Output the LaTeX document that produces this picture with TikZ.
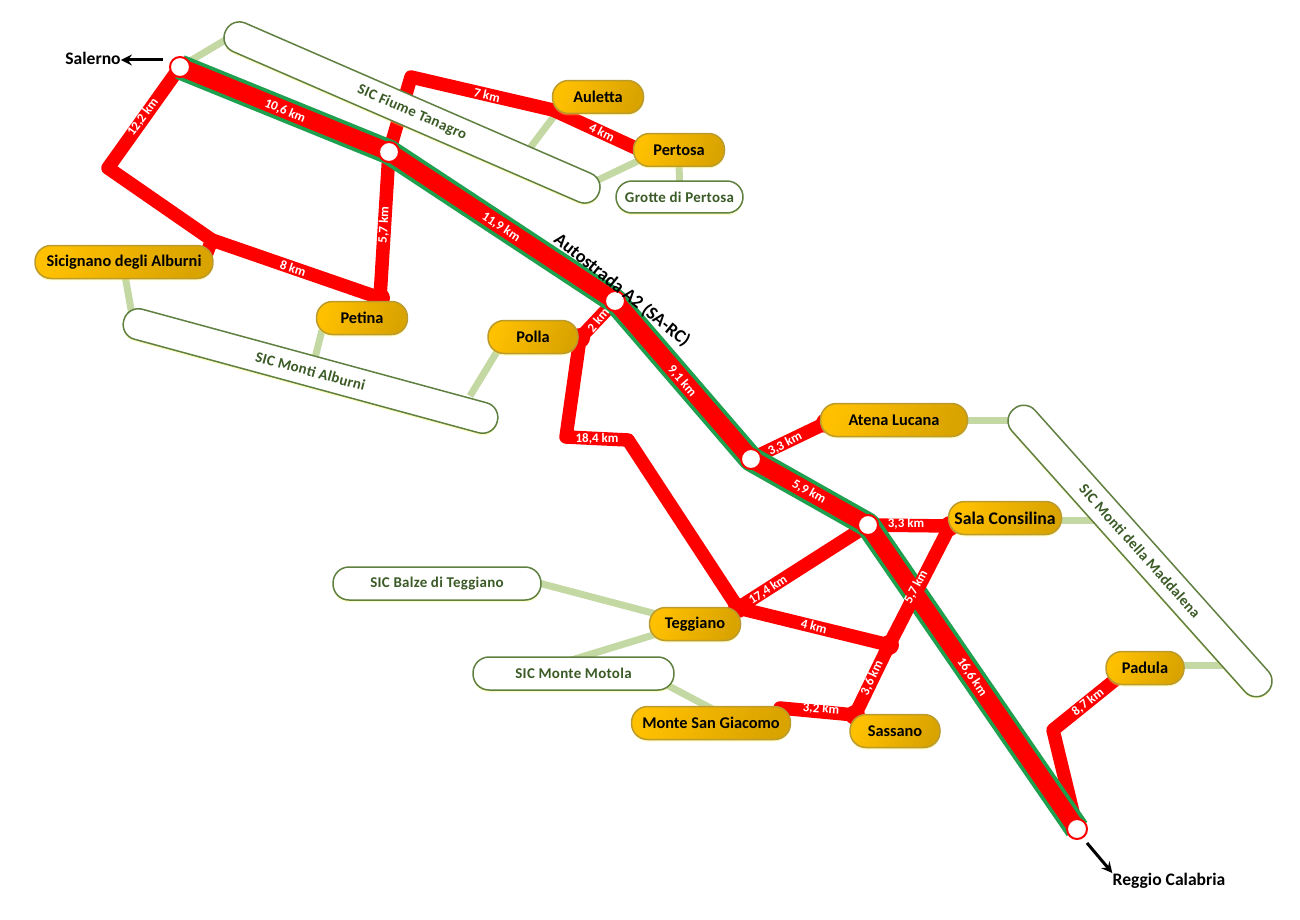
\documentclass[tikz,border=0pt]{standalone}
\usepackage{fontspec}
\setmainfont{Carlito}
\newfontfamily\sicfont[LetterSpace=2]{Carlito}
\usetikzlibrary{backgrounds,shadows}

\definecolor{roadred}{HTML}{FF0000}
\definecolor{roadgreen}{HTML}{1FA04F}
\definecolor{sicline}{HTML}{C4D8A3}
\definecolor{sicedge}{HTML}{5F8040}
\definecolor{sictext}{HTML}{3A5A26}
\definecolor{goldA}{HTML}{FFC000}
\definecolor{goldB}{HTML}{D9A300}
\definecolor{goldedge}{HTML}{BB9A2E}

\tikzset{
  glow/.style={drop shadow={shadow xshift=0cm,shadow yshift=-0.04cm,fill=yellow!70!white,opacity=0.35}},
  town/.style={rectangle,rounded corners=0.32cm,draw=goldedge,line width=0.03cm,left color=goldA,right color=goldB,shading angle=70,minimum height=0.66cm,inner sep=0pt,glow,font=\fontsize{9.3}{11}\selectfont\bfseries},
  sic/.style={rectangle,rounded corners=0.3cm,draw=sicedge,line width=0.03cm,fill=white,minimum height=0.62cm,inner sep=0pt,text=sictext,glow,font=\sicfont\fontsize{8.5}{10}\selectfont\bfseries},
  exit/.style={circle,fill=white,draw=roadred,line width=0.04cm,minimum size=0.4cm,inner sep=0pt},
  km/.style={text=white,inner sep=0pt,font=\fontsize{7.4}{9}\selectfont\bfseries},
  place/.style={inner sep=0pt,font=\fontsize{10}{12}\selectfont\bfseries},
  motorwaygreen/.style={draw=roadgreen,line width=0.5cm,line join=round},
  motorway/.style={draw=roadred,line width=0.35cm,line join=round},
  route/.style={draw=roadred,line width=0.27cm,line cap=round,line join=round},
  sicarm/.style={draw=sicline,line width=0.14cm},
  way/.style={-stealth,line width=0.06cm},
}

\begin{document}
\begin{tikzpicture}[x=0.02cm,y=-0.02cm]
  \path[use as bounding box] (0,0) rectangle (1300,919);

  % motorway exits
  \node[exit] (salernoexit) at (180,67) {};
  \node[exit] (petinaexit) at (389,152) {};
  \node[exit] (pollaexit) at (615,301) {};
  \node[exit] (atenaexit) at (751,459) {};
  \node[exit] (salaexit) at (868,525) {};
  \node[exit] (reggioexit) at (1077,829) {};

  % towns
  \node[town,minimum width=3.56cm] (sicignano) at (124,262) {Sicignano degli Alburni};
  \node[town,minimum width=1.82cm] (petina) at (362,318) {Petina};
  \node[town,minimum width=1.82cm] (auletta) at (598,97) {Auletta};
  \node[town,minimum width=1.82cm] (pertosa) at (679,150) {Pertosa};
  \node[town,minimum width=1.8cm] (polla) at (533,337) {Polla};
  \node[town,minimum width=2.94cm] (atena) at (894,420) {Atena Lucana};
  \node[town,minimum width=2.26cm,font=\fontsize{10.1}{12}\selectfont\bfseries] (sala) at (1005,518) {Sala Consilina};
  \node[town,minimum width=1.56cm] (padula) at (1145,668) {Padula};
  \node[town,minimum width=1.82cm] (teggiano) at (695,624) {Teggiano};
  \node[town,minimum width=3.18cm] (giacomo) at (711,723) {Monte San Giacomo};
  \node[town,minimum width=1.8cm] (sassano) at (895,731) {Sassano};

  % protected areas
  \node[sic,minimum width=8.14cm,rotate=-23.5] (tanagro) at (412,112.5) {SIC Fiume Tanagro};
  \node[sic,minimum width=7.74cm,rotate=-15.2] (alburni) at (310.5,371) {SIC Monti Alburni};
  \node[sic,minimum width=7.6cm,rotate=-48.2] (maddalena) at (1140,551) {SIC Monti della Maddalena};
  \node[sic,minimum width=2.54cm,minimum height=0.64cm,rounded corners=0.32cm] (grotte) at (679.5,197) {Grotte di Pertosa};
  \node[sic,minimum width=4.16cm,minimum height=0.66cm,rounded corners=0.32cm] (balze) at (437,583.5) {SIC Balze di Teggiano};
  \node[sic,minimum width=4.02cm,minimum height=0.66cm,rounded corners=0.32cm] (motola) at (573.5,673.5) {SIC Monte Motola};

  % bends of the routes
  \coordinate (bendA) at (108,168);
  \coordinate (bendB) at (212,240);
  \coordinate (bendC) at (380,298);
  \coordinate (bendD) at (411,77);
  \coordinate (bendE) at (553,110);
  \coordinate (bendF) at (640,150);
  \coordinate (bendG) at (580,338);
  \coordinate (bendH) at (566,437);
  \coordinate (bendI) at (628,440);
  \coordinate (bendJ) at (738,608);
  \coordinate (bendK) at (889,645);
  \coordinate (bendL) at (950,526);
  \coordinate (bendM) at (855,715);
  \coordinate (bendN) at (780,708);
  \coordinate (bendO) at (1053,730);
  \coordinate (bendP) at (1115,680);
  \coordinate (bendQ) at (826,423);
  \coordinate (stubB) at (206,255);

  % ends of the green arms
  \coordinate (tanagroA) at (232,36);
  \coordinate (tanagroB) at (530,148);
  \coordinate (tanagroC) at (598,180);
  \coordinate (pertosaB) at (640,160);
  \coordinate (auleftB) at (555,115);
  \coordinate (sicignanoB) at (124,270);
  \coordinate (alburniA) at (132,315);
  \coordinate (petinaB) at (322,330);
  \coordinate (alburniB) at (315,358);
  \coordinate (pollaB) at (498,350);
  \coordinate (alburniC) at (470,396);
  \coordinate (atenaB) at (960,420);
  \coordinate (maddalenaA) at (1012,420);
  \coordinate (salaB) at (1055,520);
  \coordinate (maddalenaB) at (1095,520);
  \coordinate (paduleB) at (1175,665);
  \coordinate (maddalenaC) at (1226,665);
  \coordinate (balzeB) at (535,582);
  \coordinate (teggianoA) at (660,615);
  \coordinate (motolaA) at (565,662);
  \coordinate (teggianoB) at (660,633);
  \coordinate (motolaB) at (665,684);
  \coordinate (giacomoB) at (718,712);

  \begin{scope}[on background layer]
    \draw[sicarm] (salernoexit.center) -- (tanagroA);
    \draw[sicarm] (auleftB) -- (tanagroB);
    \draw[sicarm] (pertosaB) -- (tanagroC);
    \draw[sicarm] (pertosa.center) -- (grotte.center);
    \draw[sicarm] (sicignanoB) -- (alburniA);
    \draw[sicarm] (petinaB) -- (alburniB);
    \draw[sicarm] (pollaB) -- (alburniC);
    \draw[sicarm] (atenaB) -- (maddalenaA);
    \draw[sicarm] (salaB) -- (maddalenaB);
    \draw[sicarm] (paduleB) -- (maddalenaC);
    \draw[sicarm] (balzeB) -- (teggianoA);
    \draw[sicarm] (motolaA) -- (teggianoB);
    \draw[sicarm] (motolaB) -- (giacomoB);

    \draw[route] (salernoexit.center) -- (bendA) -- (bendB) -- (bendC) -- (petinaexit.center) -- (bendD) -- (bendE) -- (bendF);
    \draw[route] (bendB) -- (stubB);
    \draw[route] (pollaexit.center) -- (bendG) -- (bendH) -- (bendI) -- (bendJ) -- (bendK);
    \draw[route] (bendG) -- (polla.center);
    \draw[route] (bendJ) -- (salaexit.center);
    \draw[route] (bendK) -- (bendM) -- (bendN);
    \draw[route] (salaexit.center) -- (bendL);
    \draw[route] (atenaexit.center) -- (bendQ);
    \draw[route] (reggioexit.center) -- (bendO) -- (bendP);

    \draw[motorwaygreen] (salernoexit.center) -- (petinaexit.center) -- (pollaexit.center) -- (atenaexit.center) -- (salaexit.center) -- (reggioexit.center);
    \draw[motorway] (salernoexit.center) -- (petinaexit.center) -- (pollaexit.center) -- (atenaexit.center) -- (salaexit.center) -- (reggioexit.center);
    \draw[route] (bendK) -- (bendL);
    \foreach \b in {bendC,bendG,bendJ,bendK,bendL,bendM,bendQ}
      \fill[roadred] (\b) circle (0.2cm);
  \end{scope}

  % distances
  \node[km,rotate=53] (kmA) at (143,117) {12,2 km};
  \node[km,rotate=-23] (kmB) at (285,111) {10,6 km};
  \node[km,rotate=-18] (kmC) at (293,268) {8 km};
  \node[km,rotate=87] (kmD) at (384,225) {5,7 km};
  \node[km,rotate=-13] (kmE) at (487,95) {7 km};
  \node[km,rotate=-27] (kmF) at (602,132) {4 km};
  \node[km,rotate=-33] (kmG) at (501,227) {11,9 km};
  \node[km,rotate=50] (kmH) at (598,320) {2 km};
  \node[km,rotate=-49] (kmI) at (682,381) {9,1 km};
  \node[km] (kmJ) at (597,439) {18,4 km};
  \node[km,rotate=27] (kmK) at (785,444) {3,3 km};
  \node[km,rotate=-29] (kmL) at (809,492) {5,9 km};
  \node[km] (kmM) at (906,524) {3,3 km};
  \node[km,rotate=33] (kmN) at (768,590) {17,4 km};
  \node[km,rotate=-14] (kmO) at (814,626) {4 km};
  \node[km,rotate=62] (kmP) at (916,587) {5,7 km};
  \node[km,rotate=65] (kmQ) at (872,678) {3,6 km};
  \node[km,rotate=-4] (kmR) at (821,709) {3,2 km};
  \node[km,rotate=-56] (kmS) at (972,677) {16,6 km};
  \node[km,rotate=38] (kmT) at (1088,702) {8,7 km};

  \node[place,font=\fontsize{10.4}{12}\selectfont\bfseries,rotate=-39] (autostrada) at (622,290) {Autostrada A2 (SA-RC)};

  % ends of the motorway
  \node[place] (salerno) at (93,58) {Salerno};
  \node[place] (reggio) at (1169,881) {Reggio Calabria};
  \coordinate (salernoway) at (163,60);
  \coordinate (reggioway) at (1087,843);
  \draw[way] (salernoway) -- (salerno.east |- salernoway);
  \draw[way] (reggioway) -- (reggio.north west);
\end{tikzpicture}
\end{document}
